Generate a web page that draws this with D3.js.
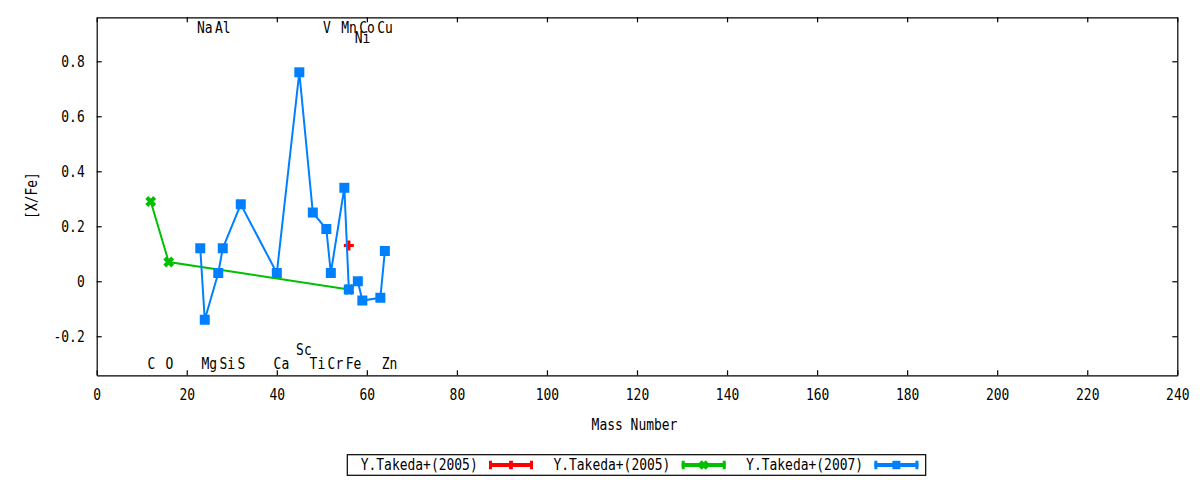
<!DOCTYPE html>
<html>
<head>
<meta charset="utf-8">
<script src="https://cdn.jsdelivr.net/npm/d3@7"></script>
<style>
  html, body { margin: 0; padding: 0; background: #fff; }
  text { font-family: "DejaVu Sans Mono", monospace; font-size: 15px; fill: #000; }
</style>
</head>
<body>
<svg id="chart" width="1200" height="480"></svg>
<script>
// Y.Takeda+(2007), blue
var mass2007 = [23, 24, 27, 28, 32, 40, 45, 48, 51, 52, 55, 56, 58, 59, 63, 64];
var xfe2007  = [0.12, -0.14, 0.03, 0.12, 0.28, 0.03, 0.76, 0.25, 0.19, 0.03, 0.34, -0.03, 0.00, -0.07, -0.06, 0.11];

// Y.Takeda+(2005), green
var massGreen = [12, 16, 56];
var xfeGreen  = [0.29, 0.07, -0.03];

// Y.Takeda+(2005), red
var massRed = [56];
var xfeRed  = [0.13];

// element labels (mass number, y in data units)
var labelNames = ["Na", "Al", "V", "Mn", "Co", "Cu", "Ni",
                  "C", "O", "Mg", "Si", "S", "Ca", "Ti", "Cr", "Fe", "Zn", "Sc"];
var labelMass  = [23, 27, 51, 55, 59, 63, 58,
                  12, 16, 24, 28, 32, 40, 48, 52, 56, 64, 45];
var labelY     = [0.92, 0.92, 0.92, 0.92, 0.92, 0.92, 0.884,
                  -0.30, -0.30, -0.30, -0.30, -0.30, -0.30, -0.30, -0.30, -0.30, -0.30, -0.25];

var xTicks = [0, 20, 40, 60, 80, 100, 120, 140, 160, 180, 200, 220, 240];
var yTicks = [-0.2, 0, 0.2, 0.4, 0.6, 0.8];
var yTickLabels = ["-0.2", "0", "0.2", "0.4", "0.6", "0.8"];

var legendLabels = ["Y.Takeda+(2005)", "Y.Takeda+(2005)", "Y.Takeda+(2007)"];
var colors = ["#ff0000", "#00c000", "#0080ff"];

var charW = 7.8;
function squeeze(sel) {
  sel.attr("textLength", function() { return this.textContent.length * charW; })
     .attr("lengthAdjust", "spacingAndGlyphs");
}

var margin = {top: 17.3, right: 22.7, bottom: 104.7, left: 96.7},
    width = 1200 - margin.left - margin.right,
    height = 480 - margin.top - margin.bottom;

var x = d3.scaleLinear().domain([0, 240]).range([0, width]);
var y = d3.scaleLinear().domain([-0.342, 0.96]).range([height, 0]);

var svg = d3.select("#chart");
svg.append("rect").attr("width", 1200).attr("height", 480).attr("fill", "#fff");

var g = svg.append("g")
  .attr("transform", "translate(" + margin.left + "," + margin.top + ")");

// axes, ticks pointing inward on all four sides
g.append("g")
  .attr("transform", "translate(0," + height + ")")
  .call(d3.axisBottom(x).tickValues(xTicks).tickFormat(d3.format("d"))
          .tickSizeInner(-5).tickSizeOuter(0).tickPadding(14));
g.append("g")
  .call(d3.axisTop(x).tickValues(xTicks).tickFormat("")
          .tickSizeInner(-5).tickSizeOuter(0));
g.append("g")
  .call(d3.axisLeft(y).tickValues(yTicks).tickFormat(function(d, i) { return yTickLabels[i]; })
          .tickSizeInner(-5).tickSizeOuter(0).tickPadding(12));
g.append("g")
  .attr("transform", "translate(" + width + ",0)")
  .call(d3.axisRight(y).tickValues(yTicks).tickFormat("")
          .tickSizeInner(-5).tickSizeOuter(0));

g.selectAll(".domain, .tick line").attr("stroke", "#000").attr("stroke-width", 1.2);
g.selectAll(".tick text")
  .style("font-family", "DejaVu Sans Mono").style("font-size", "15px").attr("fill", "#000")
  .call(squeeze);

// axis titles
svg.append("text")
  .attr("transform", "translate(31.5,195.5) rotate(-90)")
  .attr("text-anchor", "middle").attr("dy", "0.36em")
  .text("[X/Fe]").call(squeeze);
svg.append("text")
  .attr("x", 634.5).attr("y", 425)
  .attr("text-anchor", "middle").attr("dy", "0.36em")
  .text("Mass Number").call(squeeze);

// element labels
g.selectAll(".elem")
  .data(labelNames)
  .enter().append("text")
  .attr("class", "elem")
  .attr("x", function(d, i) { return x(labelMass[i]) - 3.2; })
  .attr("y", function(d, i) { return y(labelY[i]); })
  .attr("dy", "0.33em")
  .text(function(d) { return d; })
  .call(squeeze);

// markers
var plusPath = "M-5,0H5M0,-5V5";
var crossPath = "M-4,-4L4,4M-4,4L4,-4";

function zip(xs, ys) { return xs.map(function(v, i) { return [v, ys[i]]; }); }

var line = d3.line()
  .x(function(d) { return x(d[0]); })
  .y(function(d) { return y(d[1]); });

// red series
var redPts = zip(massRed, xfeRed);
g.selectAll(".red")
  .data(redPts)
  .enter().append("path")
  .attr("class", "red")
  .attr("transform", function(d) { return "translate(" + x(d[0]) + "," + y(d[1]) + ")"; })
  .attr("d", plusPath)
  .attr("stroke", colors[0]).attr("stroke-width", 3.2).attr("fill", "none");

// green series
var greenPts = zip(massGreen, xfeGreen);
g.append("path")
  .datum(greenPts)
  .attr("d", line)
  .attr("fill", "none").attr("stroke", colors[1]).attr("stroke-width", 2);
g.selectAll(".green")
  .data(greenPts)
  .enter().append("path")
  .attr("class", "green")
  .attr("transform", function(d) { return "translate(" + x(d[0]) + "," + y(d[1]) + ")"; })
  .attr("d", crossPath)
  .attr("stroke", colors[1]).attr("stroke-width", 4).attr("fill", "none");

// blue series
var bluePts = zip(mass2007, xfe2007);
g.append("path")
  .datum(bluePts)
  .attr("d", line)
  .attr("fill", "none").attr("stroke", colors[2]).attr("stroke-width", 2);
g.selectAll(".blue")
  .data(bluePts)
  .enter().append("rect")
  .attr("class", "blue")
  .attr("x", function(d) { return x(d[0]) - 5; })
  .attr("y", function(d) { return y(d[1]) - 5; })
  .attr("width", 10).attr("height", 10)
  .attr("fill", colors[2]);

// legend
var legend = svg.append("g").attr("transform", "translate(347.3,454.7)");
legend.append("rect")
  .attr("width", 578.4).attr("height", 20.6)
  .attr("fill", "none").attr("stroke", "#000").attr("stroke-width", 1.2);

var entry = legend.selectAll(".entry")
  .data(legendLabels)
  .enter().append("g")
  .attr("class", "entry")
  .attr("transform", function(d, i) { return "translate(" + (13.4 + i * 192.7) + ",10.3)"; });

entry.append("text")
  .attr("dy", "0.36em")
  .text(function(d) { return d; })
  .call(squeeze);

entry.append("line")
  .attr("x1", 128.3).attr("x2", 172.3)
  .attr("stroke", function(d, i) { return colors[i]; }).attr("stroke-width", 4);
entry.append("path")
  .attr("d", "M129.8,-4.3V4.3M170.8,-4.3V4.3")
  .attr("stroke", function(d, i) { return colors[i]; }).attr("stroke-width", 3);

entry.each(function(d, i) {
  var e = d3.select(this);
  if (i === 0) {
    e.append("path").attr("transform", "translate(150.3,0) scale(0.85)")
      .attr("d", plusPath).attr("stroke", colors[0]).attr("stroke-width", 4.5).attr("fill", "none");
  } else if (i === 1) {
    e.append("path").attr("transform", "translate(150.3,0) scale(0.85)")
      .attr("d", crossPath).attr("stroke", colors[1]).attr("stroke-width", 4.5).attr("fill", "none");
  } else {
    e.append("rect").attr("x", 146.3).attr("y", -4.2).attr("width", 8).attr("height", 8.4)
      .attr("fill", colors[2]);
  }
});
</script>
</body>
</html>
